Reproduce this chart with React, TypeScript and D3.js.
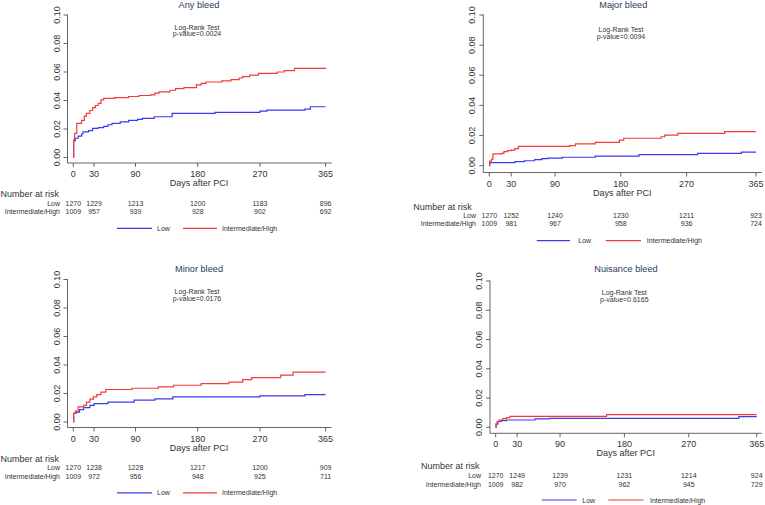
import React from "react";
import * as d3 from "d3";

// ---------- DATA ----------
const titles = ["Any bleed", "Major bleed", "Minor bleed", "Nuisance bleed"];
const pValues = ["0.0024", "0.0094", "0.0176", "0.6165"];
const xTicks = [0, 30, 90, 180, 270, 365];
const yTicks = [0, 0.02, 0.04, 0.06, 0.08, 0.1];
const groupNames = ["Low", "Intermediate/High"];

const anyLow: [number, number][] = [[0,0],[0.5,0.0118],[3,0.0135],[7,0.015],[12,0.0165],[14,0.018],[22,0.0188],[28,0.0204],[36,0.021],[44,0.0218],[50,0.023],[56,0.024],[68,0.025],[80,0.026],[93,0.0268],[100,0.0275],[117,0.0286],[143,0.031],[205,0.0316],[270,0.0325],[280,0.0332],[335,0.034],[343,0.0356],[365,0.0356]];
const anyHigh: [number, number][] = [[0,0],[0.5,0.0123],[2,0.017],[5,0.024],[12,0.026],[16,0.029],[19,0.031],[24,0.033],[28,0.035],[32,0.0365],[36,0.038],[40,0.0405],[44,0.0415],[60,0.042],[80,0.0428],[95,0.0435],[112,0.044],[118,0.0452],[124,0.046],[140,0.0472],[148,0.0484],[160,0.049],[178,0.051],[185,0.052],[192,0.053],[215,0.0538],[228,0.0547],[240,0.0558],[245,0.0568],[255,0.0578],[268,0.059],[295,0.06],[305,0.061],[320,0.0625],[365,0.063]];
const majorLow: [number, number][] = [[0,0],[0.5,0.002],[35,0.0027],[48,0.0033],[62,0.004],[72,0.0047],[80,0.005],[100,0.0056],[145,0.0064],[205,0.0074],[285,0.0082],[345,0.009],[365,0.009]];
const majorHigh: [number, number][] = [[0,0],[0.5,0.003],[3,0.0044],[5,0.0078],[17,0.0082],[20,0.0093],[25,0.01],[30,0.0104],[35,0.0113],[40,0.0128],[110,0.0133],[118,0.0145],[145,0.0155],[178,0.017],[184,0.0182],[235,0.0192],[240,0.0203],[258,0.0214],[322,0.0226],[365,0.0226]];
const minorLow: [number, number][] = [[0,0],[0.5,0.006],[4,0.007],[9,0.0087],[15,0.0101],[24,0.0117],[30,0.0129],[50,0.014],[88,0.0153],[118,0.0162],[144,0.0176],[270,0.0183],[335,0.0192],[365,0.0192]];
const minorHigh: [number, number][] = [[0,0],[0.5,0.006],[3,0.0077],[7,0.0106],[15,0.0117],[19,0.014],[24,0.016],[29,0.0176],[34,0.0192],[40,0.021],[47,0.0228],[85,0.0237],[123,0.0246],[145,0.0258],[185,0.027],[225,0.028],[245,0.0298],[258,0.0312],[300,0.0329],[318,0.035],[365,0.035]];
const nuisanceLow: [number, number][] = [[0,0],[0.5,0.0022],[3,0.004],[8,0.0045],[15,0.005],[55,0.0057],[75,0.0061],[340,0.0073],[365,0.0073]];
const nuisanceHigh: [number, number][] = [[0,0],[0.5,0.0023],[2,0.0039],[5,0.005],[10,0.0059],[15,0.0066],[20,0.0075],[155,0.0086],[365,0.0086]];

const lowSeries = [anyLow, majorLow, minorLow, nuisanceLow];
const highSeries = [anyHigh, majorHigh, minorHigh, nuisanceHigh];

const riskLow = [
  [1270, 1229, 1213, 1200, 1183, 896],
  [1270, 1252, 1240, 1230, 1211, 923],
  [1270, 1238, 1228, 1217, 1200, 909],
  [1270, 1249, 1239, 1231, 1214, 924],
];
const riskHigh = [
  [1009, 957, 939, 928, 902, 692],
  [1009, 981, 967, 958, 936, 724],
  [1009, 972, 956, 948, 925, 711],
  [1009, 982, 970, 962, 945, 729],
];

// ---------- LAYOUT ----------
const p1 = { axX: 67.5, x0: 73.3, x1: 325.6, axEnd: 331.7, yTop: 15, y0: 157.5, axY: 163, titleX: 199, titleY: 4.5, lrX: 197, lrY: 27, pvY: 33.5, tickY: 174, daysX: 199, daysY: 183, narX: 0.5, narY: 194.3, rowLabX: 60, lowY: 203.3, ihY: 211.7, legY: 228.3, leg: [117, 152, 157, 183, 217, 222] };
const dy3 = 264.5;
const p3 = { ...p1, yTop: p1.yTop + dy3, y0: p1.y0 + dy3, axY: p1.axY + dy3, titleY: p1.titleY + dy3, lrY: p1.lrY + dy3, pvY: p1.pvY + dy3, tickY: p1.tickY + dy3, daysY: p1.daysY + dy3, narY: p1.narY + dy3, lowY: p1.lowY + dy3, ihY: p1.ihY + dy3, legY: p1.legY + dy3 };
const p2 = { axX: 483.3, x0: 489.3, x1: 756, axEnd: 761.7, yTop: 15, y0: 165.7, axY: 172.5, titleX: 623.3, titleY: 5, lrX: 621, lrY: 29.3, pvY: 36, tickY: 184, daysX: 622.3, daysY: 192.7, narX: 413.3, narY: 206.7, rowLabX: 476, lowY: 215.5, ihY: 223.7, legY: 240.7, leg: [536.7, 570, 578.3, 605.7, 641, 646.7] };
const p4 = { axX: 490, x0: 495.7, x1: 756.7, axEnd: 761.7, yTop: 281, y0: 427.3, axY: 433.3, titleX: 626, titleY: 269, lrX: 624.3, lrY: 292.5, pvY: 299.5, tickY: 444.3, daysX: 625.7, daysY: 453.3, narX: 421, narY: 466.3, rowLabX: 481, lowY: 475.7, ihY: 484.2, legY: 500, leg: [541.7, 576.7, 582.3, 608.3, 643.3, 650] };
const layouts = [p1, p2, p3, p4];

const FONT = "Arial, 'Liberation Sans', sans-serif";
const BLUE = "#3a3af2";
const RED = "#f23a3a";
const AXIS = "#555";
const TXT = "#333";

function Panel({ i }: { i: number }) {
  const L = layouts[i];
  const x = d3.scaleLinear().domain([0, 365]).range([L.x0, L.x1]);
  const y = d3.scaleLinear().domain([0, 0.1]).range([L.y0, L.yTop]);
  const line = d3
    .line<[number, number]>()
    .x((d) => x(d[0]))
    .y((d) => y(d[1]))
    .curve(d3.curveStepAfter);
  return (
    <g fontFamily={FONT}>
      <text x={L.titleX} y={L.titleY} textAnchor="middle" dominantBaseline="central" fontSize={9.2} fill="#2a3a5c">
        {titles[i]}
      </text>
      <text x={L.lrX} y={L.lrY} textAnchor="middle" dominantBaseline="central" fontSize={7} fill={TXT}>
        Log-Rank Test
      </text>
      <text x={L.lrX} y={L.pvY} textAnchor="middle" dominantBaseline="central" fontSize={7} fill={TXT}>
        {"p-value=" + pValues[i]}
      </text>
      {/* y axis */}
      <line x1={L.axX} x2={L.axX} y1={y(0.1) - 0.5} y2={L.axY} stroke={AXIS} strokeWidth={0.9} />
      {yTicks.map((t) => (
        <g key={t}>
          <line x1={L.axX - 4} x2={L.axX} y1={y(t)} y2={y(t)} stroke={AXIS} strokeWidth={0.9} />
          <text
            x={L.axX - 11}
            y={y(t)}
            transform={`rotate(-90, ${L.axX - 11}, ${y(t)})`}
            textAnchor="middle"
            dominantBaseline="central"
            fontSize={9}
            fill={TXT}
          >
            {t.toFixed(2)}
          </text>
        </g>
      ))}
      {/* x axis */}
      <line x1={L.axX} x2={L.axEnd} y1={L.axY} y2={L.axY} stroke={AXIS} strokeWidth={0.9} />
      {xTicks.map((t) => (
        <g key={t}>
          <line x1={x(t)} x2={x(t)} y1={L.axY} y2={L.axY + 4} stroke={AXIS} strokeWidth={0.9} />
          <text x={x(t)} y={L.tickY} textAnchor="middle" dominantBaseline="central" fontSize={9} fill={TXT}>
            {t}
          </text>
        </g>
      ))}
      <text x={L.daysX} y={L.daysY} textAnchor="middle" dominantBaseline="central" fontSize={9} fill={TXT}>
        Days after PCI
      </text>
      {/* curves */}
      <path d={line(lowSeries[i]) || ""} fill="none" stroke={BLUE} strokeWidth={1.2} />
      <path d={line(highSeries[i]) || ""} fill="none" stroke={RED} strokeWidth={1.2} />
      {/* risk table */}
      <text x={L.narX} y={L.narY} dominantBaseline="central" fontSize={9} fill={TXT}>
        Number at risk
      </text>
      <text x={L.rowLabX} y={L.lowY} textAnchor="end" dominantBaseline="central" fontSize={7} fill={TXT}>
        {groupNames[0]}
      </text>
      <text x={L.rowLabX} y={L.ihY} textAnchor="end" dominantBaseline="central" fontSize={7} fill={TXT}>
        {groupNames[1]}
      </text>
      {xTicks.map((t, k) => (
        <g key={"r" + t}>
          <text x={x(t)} y={L.lowY} textAnchor="middle" dominantBaseline="central" fontSize={7} fill={TXT}>
            {riskLow[i][k]}
          </text>
          <text x={x(t)} y={L.ihY} textAnchor="middle" dominantBaseline="central" fontSize={7} fill={TXT}>
            {riskHigh[i][k]}
          </text>
        </g>
      ))}
      {/* legend */}
      <line x1={L.leg[0]} x2={L.leg[1]} y1={L.legY} y2={L.legY} stroke={BLUE} strokeWidth={1.2} />
      <text x={L.leg[2]} y={L.legY} dominantBaseline="central" fontSize={7} fill={TXT}>
        {groupNames[0]}
      </text>
      <line x1={L.leg[3]} x2={L.leg[4]} y1={L.legY} y2={L.legY} stroke={RED} strokeWidth={1.2} />
      <text x={L.leg[5]} y={L.legY} dominantBaseline="central" fontSize={7} fill={TXT}>
        {groupNames[1]}
      </text>
    </g>
  );
}

export default function App() {
  return (
    <svg
      width={765}
      height={505}
      style={{ position: "absolute", left: 0, top: 0, background: "#fff" }}
    >
      <rect width={765} height={505} fill="#fff" />
      {titles.map((_, i) => (
        <Panel key={i} i={i} />
      ))}
    </svg>
  );
}
